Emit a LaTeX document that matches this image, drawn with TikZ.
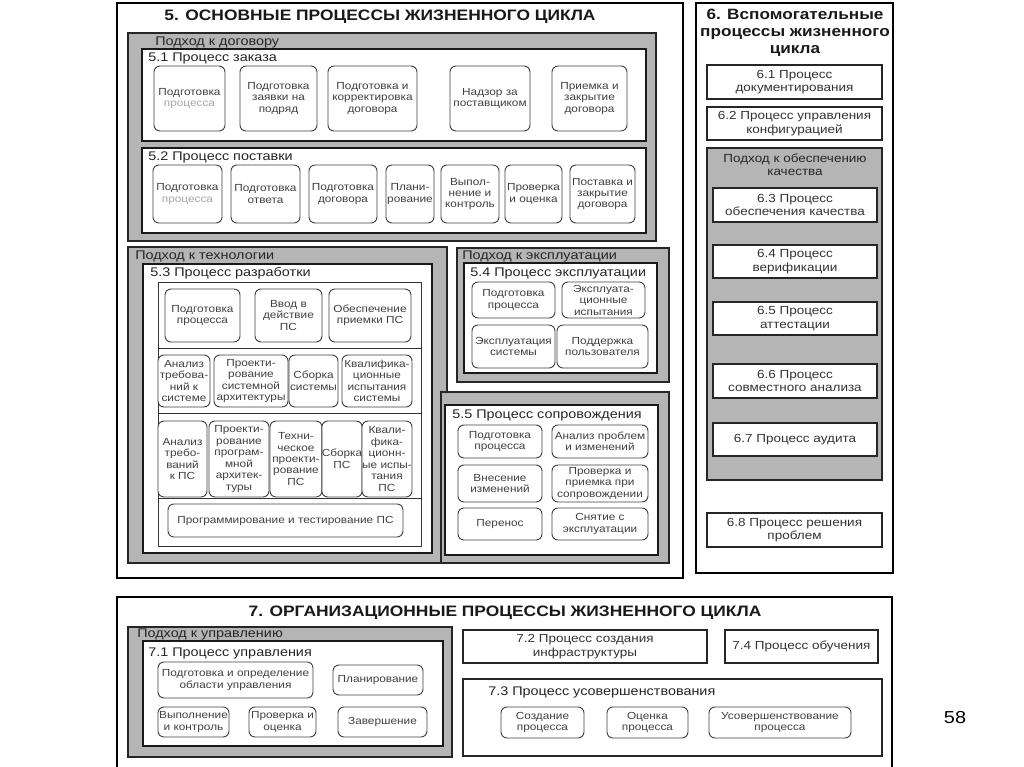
\documentclass[tikz,border=0pt]{standalone}
\usepackage{fontspec}
\setmainfont[FakeStretch=1.15]{Liberation Sans}
\newcommand\bx[7][rbox]{\node[#1, minimum width={(#5-#3)*0.75pt}, minimum height={(#6-#4)*0.75pt}] (#2) at ({(#3+#5)/2},{(#4+#6)/2}) {#7};}
\newcommand\lgrey[1]{\textcolor{black!35}{#1}}
\begin{document}
\begin{tikzpicture}[x=0.75pt,y=-0.75pt,
  sect/.style={draw=black, line width=1.8pt, inner sep=0pt},
  grayarea/.style={draw=black!85, fill=black!29, line width=1.1pt, inner sep=0pt},
  pbox/.style={draw=black!90, fill=white, line width=1.2pt, inner sep=0pt},
  tbox/.style={draw=black!80, fill=white, line width=0.7pt, inner sep=0pt},
  rbox/.style={draw=black!75, fill=white, rounded corners=4.5pt, line width=0.7pt, align=center, inner sep=0pt, text=black!75, font=\fontsize{7.7}{8.6}\selectfont},
  sbox/.style={draw=black!85, fill=white, line width=1pt, align=center, inner sep=0pt, text=black!80, font=\fontsize{8.8}{10}\selectfont},
  lbl/.style={anchor=west, inner sep=0pt, text=black!85, font=\fontsize{9.4}{10}\selectfont},
  ttl/.style={inner sep=0pt, text=black!90, font=\bfseries\fontsize{11.35}{14}\selectfont}]
\useasboundingbox[fill=white] (0,0) rectangle (1024,767);

% ---------------- Section 5 ----------------
\bx[sect]{s5}{117}{3}{683}{578}{}
\node[ttl] (t5) at (380,17) {5. ОСНОВНЫЕ ПРОЦЕССЫ ЖИЗНЕННОГО ЦИКЛА};

\bx[grayarea]{gDog}{128}{33}{656}{241}{}
\node[lbl] (lDog) at (155,42) {Подход к договору};

\bx[pbox]{p51}{142}{49}{646}{141}{}
\node[lbl] (l51) at (148,58) {5.1 Процесс заказа};
\bx{a1}{154}{66}{225}{131}{Подготовка\\\lgrey{процесса}}
\bx{a2}{240}{66}{317}{131}{Подготовка\\заявки на\\подряд}
\bx{a3}{328}{66}{417}{131}{Подготовка и\\корректировка\\договора}
\bx{a4}{450}{66}{530}{131}{Надзор за\\поставщиком}
\bx{a5}{552}{66}{627}{131}{Приемка и\\закрытие\\договора}

\bx[pbox]{p52}{142}{148}{646}{233}{}
\node[lbl] (l52) at (148,157) {5.2 Процесс поставки};
\bx{b1}{153}{165}{222}{223}{Подготовка\\\lgrey{процесса}}
\bx{b2}{231}{165}{300}{223}{Подготовка\\ответа}
\bx{b3}{309}{165}{377}{223}{Подготовка\\договора}
\bx{b4}{386}{165}{434}{223}{Плани-\\рование}
\bx{b5}{441}{165}{499}{223}{Выпол-\\нение и\\контроль}
\bx{b6}{505}{165}{562}{223}{Проверка\\и оценка}
\bx{b7}{570}{165}{635}{223}{Поставка и\\закрытие\\договора}

% technology
\bx[grayarea]{gTech}{128}{247}{447}{563}{}
\node[lbl] (lTech) at (135,256) {Подход к технологии};
\bx[pbox]{p53}{143}{264}{432}{553}{}
\node[lbl] (l53) at (150,273) {5.3 Процесс разработки};
\bx[tbox]{tbl}{158}{282}{421}{546}{}
\coordinate (r1) at (0,348);
\coordinate (r2) at (0,413);
\coordinate (r3) at (0,498);
\draw[black!80, line width=0.7pt] (tbl.west |- r1) -- (tbl.east |- r1);
\draw[black!80, line width=0.7pt] (tbl.west |- r2) -- (tbl.east |- r2);
\draw[black!80, line width=0.7pt] (tbl.west |- r3) -- (tbl.east |- r3);
\bx{c1}{165}{289}{240}{342}{Подготовка\\процесса}
\bx{c2}{255}{289}{322}{342}{Ввод в\\действие\\ПС}
\bx{c3}{329}{289}{411}{342}{Обеспечение\\приемки ПС}
\bx{d1}{158}{355}{210}{407}{Анализ\\требова-\\ний к\\системе}
\bx{d2}{214}{355}{288}{407}{Проекти-\\рование\\системной\\архитектуры}
\bx{d3}{289}{355}{338}{407}{Сборка\\системы}
\bx{d4}{342}{355}{412}{407}{Квалифика-\\ционные\\испытания\\системы}
\bx{e1}{158}{421}{207}{497}{Анализ\\требо-\\ваний\\к ПС}
\bx{e2}{209}{421}{269}{497}{Проекти-\\рование\\програм-\\мной\\архитек-\\туры}
\bx{e3}{270}{421}{322}{497}{Техни-\\ческое\\проекти-\\рование\\ПС}
\bx{e4}{323}{421}{361}{497}{Сборка\\ПС}
\bx{e5}{362}{421}{412}{497}{Квали-\\фика-\\ционн-\\ые испы-\\тания\\ПС}
\bx{f1}{168}{504}{403}{537}{Программирование и тестирование ПС}

% exploitation
\bx[grayarea]{gExp}{457}{248}{669}{382}{}
\node[lbl] (lExp) at (462,256) {Подход к эксплуатации};
\bx[pbox]{p54}{464}{263}{657}{373}{}
\node[lbl] (l54) at (470,273) {5.4 Процесс эксплуатации};
\bx{g1}{472}{282}{555}{318}{Подготовка\\процесса}
\bx{g2}{562}{282}{645}{318}{Эксплуата-\\ционные\\испытания}
\bx{g3}{472}{325}{555}{368}{Эксплуатация\\системы}
\bx{g4}{557}{325}{648}{368}{Поддержка\\пользователя}

% maintenance
\bx[grayarea]{gSup}{441}{392}{669}{563}{}
\bx[pbox]{p55}{445}{405}{658}{555}{}
\node[lbl] (l55) at (452,415) {5.5 Процесс сопровождения};
\bx{h1}{458}{425}{542}{458}{Подготовка\\процесса}
\bx{h2}{552}{425}{648}{458}{Анализ проблем\\и изменений}
\bx{h3}{458}{465}{542}{502}{Внесение\\изменений}
\bx{h4}{552}{465}{648}{502}{Проверка и\\приемка при\\сопровождении}
\bx{h5}{458}{508}{542}{540}{Перенос}
\bx{h6}{552}{508}{648}{540}{Снятие с\\эксплуатации}

% ---------------- Section 6 ----------------
\bx[sect]{s6}{696}{3}{893}{573}{}
\node[ttl, align=center, font=\bfseries\fontsize{11.2}{12.8}\selectfont] (t6) at (795,33) {6. Вспомогательные\\процессы жизненного\\цикла};
\bx[sbox]{q1}{707}{65}{882}{99}{6.1 Процесс\\документирования}
\bx[sbox]{q2}{707}{107}{882}{140}{6.2 Процесс управления\\конфигурацией}
\bx[grayarea]{gQual}{707}{148}{882}{480}{}
\node[lbl, anchor=center, align=center, font=\fontsize{8.8}{10}\selectfont] (lQual) at (795,165) {Подход к обеспечению\\качества};
\bx[sbox]{q3}{713}{188}{877}{222}{6.3 Процесс\\обеспечения качества}
\bx[sbox]{q4}{713}{245}{877}{278}{6.4 Процесс\\верификации}
\bx[sbox]{q5}{713}{302}{877}{335}{6.5 Процесс\\аттестации}
\bx[sbox]{q6}{713}{364}{877}{398}{6.6 Процесс\\совместного анализа}
\bx[sbox]{q7}{713}{423}{877}{456}{6.7 Процесс аудита}
\bx[sbox]{q8}{707}{513}{882}{547}{6.8 Процесс решения\\проблем}

% ---------------- Section 7 ----------------
\draw[line width=1.8pt] (117,767) -- (117,597) -- (892,597) -- (892,767);
\node[ttl] (t7) at (505,613) {7. ОРГАНИЗАЦИОННЫЕ ПРОЦЕССЫ ЖИЗНЕННОГО ЦИКЛА};
\bx[grayarea]{gMan}{128}{627}{452}{757}{}
\node[lbl] (lMan) at (137,634) {Подход к управлению};
\bx[pbox]{p71}{143}{641}{443}{746}{}
\node[lbl] (l71) at (148,653) {7.1 Процесс управления};
\bx{m1}{158}{662}{313}{698}{Подготовка и определение\\области управления}
\bx{m2}{333}{665}{423}{695}{Планирование}
\bx{m3}{158}{707}{229}{737}{Выполнение\\и контроль}
\bx{m4}{249}{707}{316}{737}{Проверка и\\оценка}
\bx{m5}{338}{707}{427}{737}{Завершение}

\bx[sbox]{o2}{463}{630}{707}{663}{7.2 Процесс создания\\инфраструктуры}
\bx[sbox]{o4}{725}{630}{878}{663}{7.4 Процесс обучения}
\bx[sbox]{o3}{463}{679}{882}{756}{}
\node[lbl] (l73) at (488,692) {7.3 Процесс усовершенствования};
\bx{n1}{501}{707}{584}{738}{Создание\\процесса}
\bx{n2}{607}{707}{688}{738}{Оценка\\процесса}
\bx{n3}{709}{707}{851}{738}{Усовершенствование\\процесса}

\node[inner sep=0pt, font=\fontsize{13}{15}\selectfont] (pg) at (955,718) {58};
\end{tikzpicture}
\end{document}
